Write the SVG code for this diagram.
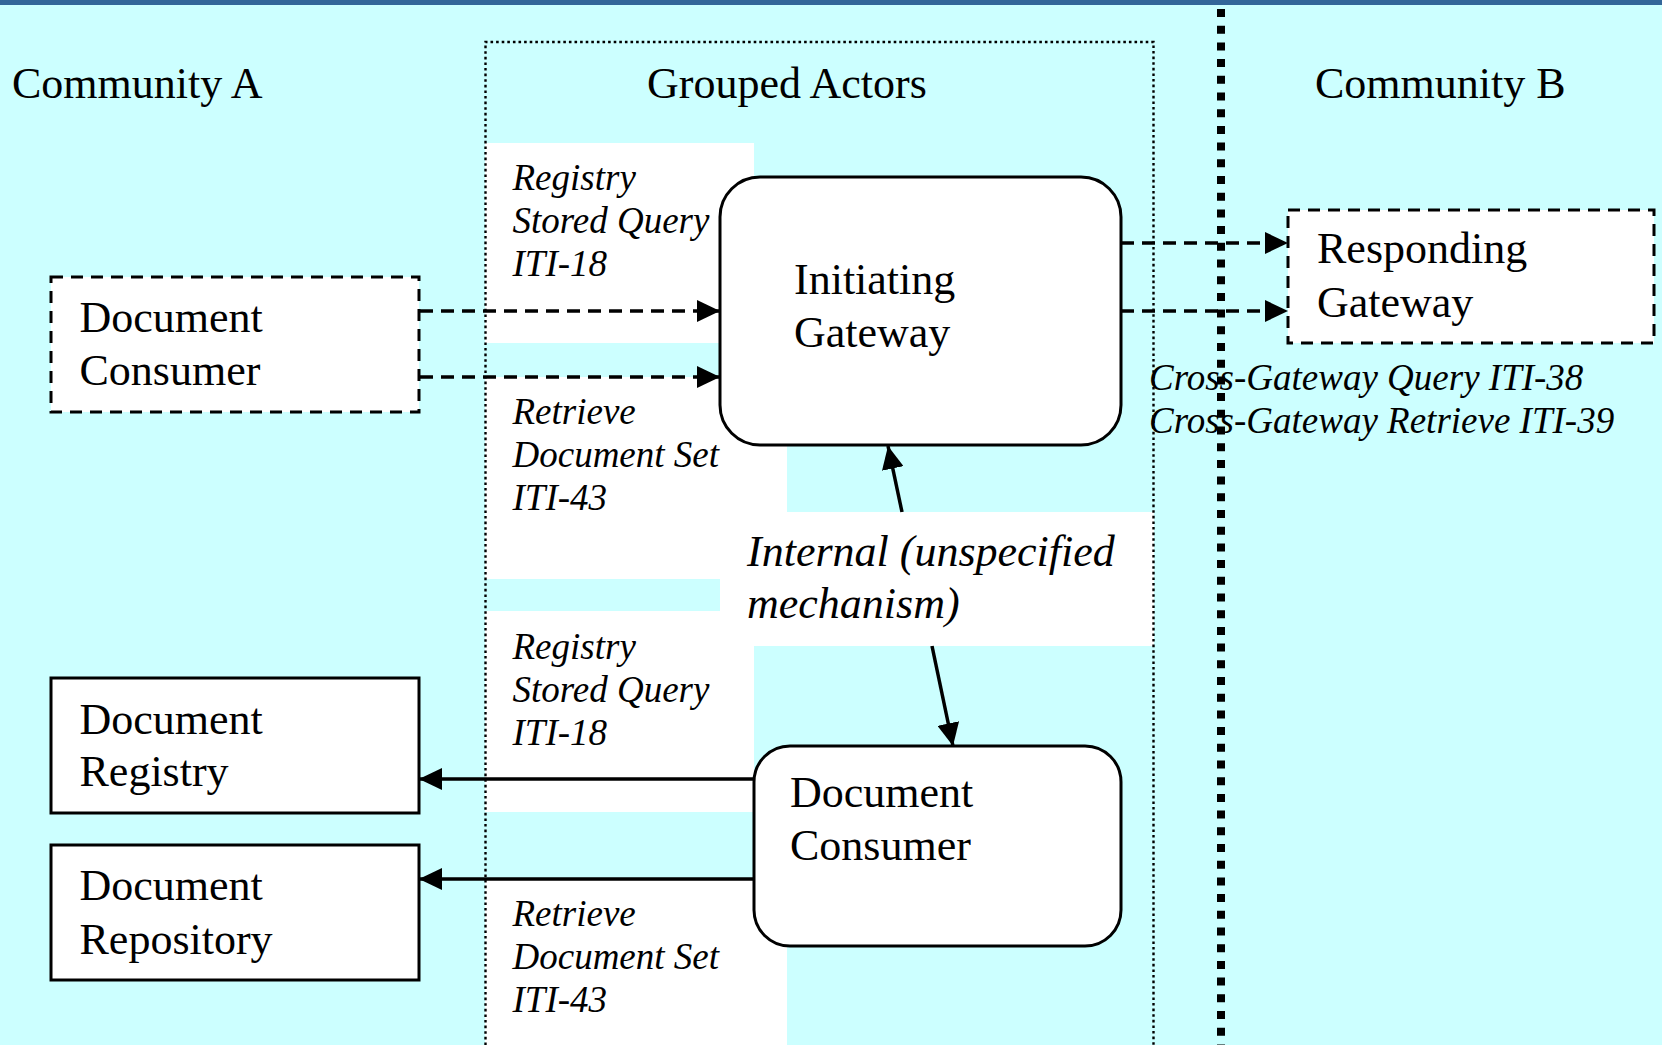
<svg xmlns="http://www.w3.org/2000/svg" width="1662" height="1045" viewBox="0 0 1662 1045">
<defs>
<style>
.t{font-family:"Liberation Serif","Times New Roman",serif;font-size:44px;fill:#000}
.i{font-family:"Liberation Serif","Times New Roman",serif;font-size:37px;font-style:italic;fill:#000}
.ib{font-family:"Liberation Serif","Times New Roman",serif;font-size:44px;font-style:italic;fill:#000}
.box{fill:#fff;stroke:#000;stroke-width:3}
.dbox{fill:#fff;stroke:#000;stroke-width:3;stroke-dasharray:12 8}
.wbg{fill:#fff}
.dash{fill:none;stroke:#000;stroke-width:3.5;stroke-dasharray:13 8}
.sol{fill:none;stroke:#000;stroke-width:3.5}
</style>
<marker id="ah" markerUnits="userSpaceOnUse" markerWidth="23" markerHeight="22" refX="23" refY="11" orient="auto">
<path d="M0,0 L23,11 L0,22 z" fill="#000"/>
</marker>
</defs>
<rect x="0" y="0" width="1662" height="1045" fill="#CCFFFF"/>
<rect x="0" y="0" width="1662" height="5" fill="#336699"/>
<g id="label-backgrounds">
<rect class="wbg" x="485" y="143" width="269" height="200"/>
<rect class="wbg" x="485" y="377" width="302" height="202"/>
<rect class="wbg" x="485" y="611" width="269" height="201"/>
<rect class="wbg" x="485" y="879" width="302" height="166"/>
<rect class="wbg" x="720" y="512" width="434" height="134"/>
</g>
<g id="grouped-actors-frame">
<path d="M485.5,1045 L485.5,42 L1153.5,42 L1153.5,1045" fill="none" stroke="#000" stroke-width="2.4" stroke-dasharray="2.6 3"/>
</g>
<g id="community-divider">
<line x1="1221" y1="9" x2="1221" y2="1045" stroke="#000" stroke-width="8" stroke-dasharray="8 8.7"/>
</g>
<g id="titles">
<text class="t" x="12" y="98">Community A</text>
<text class="t" x="647" y="98">Grouped Actors</text>
<text class="t" x="1315" y="98">Community B</text>
</g>
<g id="document-consumer-a">
<rect class="dbox" x="51" y="277" width="368" height="135"/>
<text class="t" x="79.5" y="332">Document</text>
<text class="t" x="79.5" y="385">Consumer</text>
</g>
<g id="initiating-gateway">
<rect class="box" x="720" y="177" width="401" height="268" rx="40" ry="40"/>
<text class="t" x="794" y="294">Initiating</text>
<text class="t" x="794" y="347">Gateway</text>
</g>
<g id="responding-gateway">
<rect class="dbox" x="1288" y="210" width="366" height="133"/>
<text class="t" x="1317" y="263">Responding</text>
<text class="t" x="1317" y="317">Gateway</text>
</g>
<g id="document-consumer-grouped">
<rect class="box" x="754" y="746" width="367" height="200" rx="36" ry="36"/>
<text class="t" x="790" y="807">Document</text>
<text class="t" x="790" y="860">Consumer</text>
</g>
<g id="document-registry">
<rect class="box" x="51" y="678" width="368" height="135"/>
<text class="t" x="79.5" y="734">Document</text>
<text class="t" x="79.5" y="786">Registry</text>
</g>
<g id="document-repository">
<rect class="box" x="51" y="845" width="368" height="135"/>
<text class="t" x="79.5" y="900">Document</text>
<text class="t" x="79.5" y="954">Repository</text>
</g>
<g id="connectors">
<line class="dash" x1="420" y1="311" x2="720" y2="311" marker-end="url(#ah)"/>
<line class="dash" x1="420" y1="377" x2="720" y2="377" marker-end="url(#ah)"/>
<line class="dash" x1="1121" y1="243" x2="1288" y2="243" marker-end="url(#ah)"/>
<line class="dash" x1="1121" y1="311" x2="1288" y2="311" marker-end="url(#ah)"/>
<line class="sol" x1="754" y1="779" x2="419" y2="779" marker-end="url(#ah)"/>
<line class="sol" x1="754" y1="879" x2="419" y2="879" marker-end="url(#ah)"/>
<line class="sol" x1="902" y1="512" x2="888" y2="446" marker-end="url(#ah)"/>
<line class="sol" x1="932" y1="646" x2="953" y2="746" marker-end="url(#ah)"/>
</g>
<g id="connector-labels">
<text class="i" x="512.5" y="190">Registry</text>
<text class="i" x="512.5" y="233">Stored Query</text>
<text class="i" x="512.5" y="276">ITI-18</text>
<text class="i" x="512.5" y="424">Retrieve</text>
<text class="i" x="512.5" y="467">Document Set</text>
<text class="i" x="512.5" y="510">ITI-43</text>
<text class="i" x="512.5" y="659">Registry</text>
<text class="i" x="512.5" y="702">Stored Query</text>
<text class="i" x="512.5" y="745">ITI-18</text>
<text class="i" x="512.5" y="926">Retrieve</text>
<text class="i" x="512.5" y="969">Document Set</text>
<text class="i" x="512.5" y="1012">ITI-43</text>
<text class="i" x="1149" y="390">Cross-Gateway Query ITI-38</text>
<text class="i" x="1149" y="433">Cross-Gateway Retrieve ITI-39</text>
<text class="ib" x="747" y="566">Internal (unspecified</text>
<text class="ib" x="747" y="618">mechanism)</text>
</g>
</svg>
